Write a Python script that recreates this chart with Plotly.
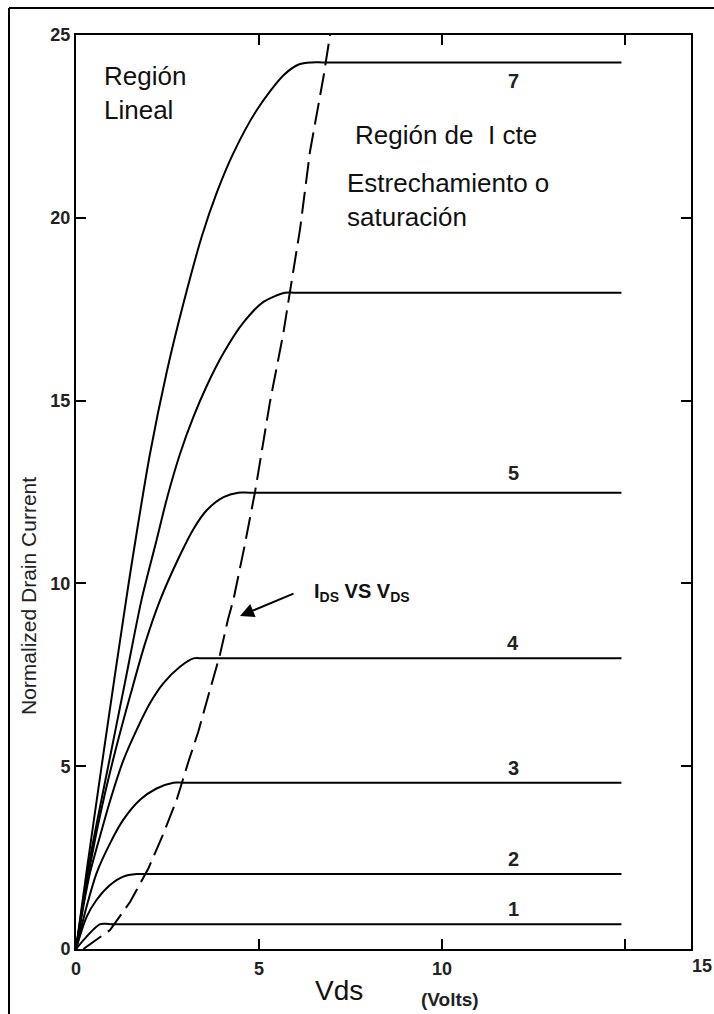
import plotly.graph_objects as go

# ---- data ----
x_ticks = [0, 5, 10, 15]
x_ticktext = ["0", "5", "10", ""]
y_ticks = [0, 5, 10, 15, 20, 25]

vds_1 = [0, 0.29, 0.66, 0.95, 14.9]
ids_1 = [0, 0.34, 0.68, 0.68, 0.68]

vds_2 = [0, 0.29, 0.56, 0.93, 1.29, 1.66, 1.95, 14.9]
ids_2 = [0, 0.88, 1.34, 1.75, 1.98, 2.05, 2.05, 2.05]

vds_3 = [0, 0.29, 0.56, 0.93, 1.29, 1.75, 2.2, 2.66, 2.95, 14.9]
ids_3 = [0, 1.16, 2.07, 2.89, 3.53, 4.08, 4.39, 4.55, 4.55, 4.55]

vds_4 = [0, 0.2, 0.38, 0.66, 0.93, 1.29, 1.66, 2.02, 2.39, 2.84, 3.21, 3.5, 14.9]
ids_4 = [0, 1.16, 2.07, 3.1, 4.05, 5.15, 6.0, 6.72, 7.27, 7.72, 7.95, 7.95, 7.95]

vds_5 = [0, 0.35, 0.7, 1.07, 1.5, 1.9, 2.3, 2.84, 3.21, 3.57, 4.03, 4.43, 4.75, 14.9]
ids_5 = [0, 2.1, 3.85, 5.4, 7.0, 8.4, 9.55, 10.77, 11.49, 12.0, 12.36, 12.48, 12.48, 12.48]

vds_6 = [0, 0.35, 0.9, 1.35, 1.79, 2.2, 2.48, 2.84, 3.21, 3.57, 4.03, 4.57, 5.12, 5.71, 6.0, 14.9]
ids_6 = [0, 2.3, 5.1, 7.35, 9.55, 11.18, 12.31, 13.54, 14.56, 15.4, 16.3, 17.13, 17.7, 17.95, 17.95, 17.95]

vds_7 = [0, 0.3, 0.7, 1.05, 1.43, 1.66, 2.02, 2.48, 2.93, 3.44, 3.85, 4.29, 4.94, 5.67, 6.1, 6.45, 6.75, 14.9]
ids_7 = [0, 2.2, 5.0, 7.4, 9.95, 11.4, 13.54, 15.79, 17.64, 19.5, 20.7, 21.75, 22.95, 23.9, 24.2, 24.25, 24.25, 24.25]

vds_locus = [0.2, 0.93, 1.48, 1.98, 2.39, 2.75, 3.07, 3.34, 3.62, 3.93, 4.16, 4.30,
             4.6, 4.89, 5.30, 5.66, 5.84, 6.12, 6.39, 6.76, 6.94]
ids_locus = [0, 0.52, 1.29, 2.21, 3.16, 4.08, 5.12, 5.94, 6.95, 8.04, 9.05, 9.55,
             11.0, 12.5, 14.97, 16.82, 17.95, 19.69, 21.8, 23.85, 25.0]

curve_labels = ["1", "2", "3", "4", "5", "7"]
curve_label_levels = [0.68, 2.05, 4.55, 7.95, 12.48, 24.25]
curve_label_shift = [15, 15, 15, 15, 20, -19]
curve_label_x = 11.95

FONT = "Liberation Sans, Arial, sans-serif"

fig = go.Figure()
curves = [(vds_1, ids_1), (vds_2, ids_2), (vds_3, ids_3), (vds_4, ids_4),
          (vds_5, ids_5), (vds_6, ids_6), (vds_7, ids_7)]
for xs, ys in curves:
    fig.add_trace(go.Scatter(x=xs, y=ys, mode="lines",
                             line=dict(color="black", width=2, shape="spline", smoothing=0.8),
                             showlegend=False, hoverinfo="skip"))
fig.add_trace(go.Scatter(x=vds_locus, y=ids_locus, mode="lines",
                         line=dict(color="black", width=2, dash="22px,8px"),
                         showlegend=False, hoverinfo="skip"))

ann = []
for lab, lev, sh in zip(curve_labels, curve_label_levels, curve_label_shift):
    ann.append(dict(x=curve_label_x, y=lev, xref="x", yref="y", text=lab, showarrow=False,
                    yshift=sh, xanchor="center", yanchor="middle",
                    font=dict(family=FONT, size=20, color="#222", weight="bold")))

# helpers: reference-pixel -> paper fraction (plot area 76..691 x 35..949)
def px_x(p):
    return (p - 76) / 615.0

def px_y(p):
    return (949 - p) / 914.0

txt = [("Región", 102, 76), ("Lineal", 102, 110), ("Región de  I cte", 353, 135),
       ("Estrechamiento o", 345, 183), ("saturación", 345, 217)]
for t, x0, y0 in txt:
    ann.append(dict(x=px_x(x0), y=px_y(y0), xref="paper", yref="paper", text=t,
                    showarrow=False, xanchor="left", yanchor="middle",
                    font=dict(family=FONT, size=26, color="#111")))

ann.append(dict(x=px_x(312), y=px_y(592), xref="paper", yref="paper",
                text="I<sub>DS</sub> VS V<sub>DS</sub>", showarrow=False,
                xanchor="left", yanchor="middle",
                font=dict(family=FONT, size=20, color="#111", weight="bold")))
ann.append(dict(x=4.48, y=9.11, xref="x", yref="y", text="", showarrow=True,
                ax=55, ay=-23, arrowhead=2, arrowsize=1.4, arrowwidth=2, arrowcolor="black"))

ann.append(dict(x=px_x(28), y=px_y(596), xref="paper", yref="paper",
                text="Normalized Drain Current", textangle=-90, showarrow=False,
                xanchor="center", yanchor="middle",
                font=dict(family=FONT, size=21, color="#222")))
ann.append(dict(x=px_x(339), y=px_y(990), xref="paper", yref="paper", text="Vds",
                showarrow=False, xanchor="center", yanchor="middle",
                font=dict(family=FONT, size=28, color="#111")))
ann.append(dict(x=px_x(450), y=px_y(999), xref="paper", yref="paper", text="(Volts)",
                showarrow=False, xanchor="center", yanchor="middle",
                font=dict(family=FONT, size=19, color="#222", weight="bold")))
ann.append(dict(x=px_x(702), y=px_y(966), xref="paper", yref="paper", text="15",
                showarrow=False, xanchor="center", yanchor="middle",
                font=dict(family=FONT, size=18, color="#222", weight="bold")))

shapes = [
    dict(type="line", xref="paper", yref="paper", x0=px_x(9), x1=px_x(9),
         y0=px_y(8), y1=px_y(1020), line=dict(color="black", width=2)),
    dict(type="line", xref="paper", yref="paper", x0=px_x(9), x1=px_x(720),
         y0=px_y(8), y1=px_y(8), line=dict(color="black", width=2)),
]

axis_common = dict(showline=True, linewidth=2, linecolor="black", mirror="ticks",
                   ticks="inside", ticklen=10, tickwidth=2, tickcolor="black",
                   showgrid=False, zeroline=False,
                   tickfont=dict(family=FONT, size=18, color="#222", weight="bold"))

fig.update_layout(
    width=714, height=1014,
    margin=dict(l=76, r=23, t=35, b=65),
    paper_bgcolor="white", plot_bgcolor="white",
    xaxis=dict(range=[0, 16.8], tickmode="array", tickvals=x_ticks, ticktext=x_ticktext,
               ticklabelstandoff=2, **axis_common),
    yaxis=dict(range=[0, 25], tickmode="array", tickvals=y_ticks, **axis_common),
    annotations=ann, shapes=shapes,
)

# remove the page's default 8px body margin so the figure fills the window
fig.write_html("out.html",
               config={"displayModeBar": False},
               post_script="document.body.style.margin='0';document.body.style.overflow='hidden';")
